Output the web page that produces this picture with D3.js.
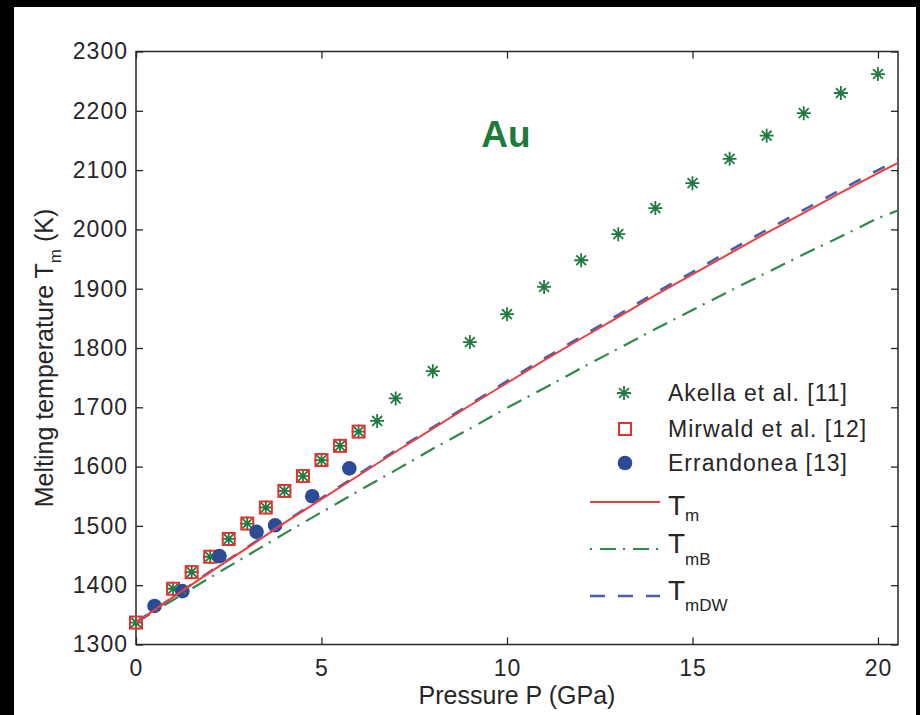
<!DOCTYPE html>
<html>
<head>
<meta charset="utf-8">
<script src="https://cdn.jsdelivr.net/npm/d3@7"></script>
<style>
  body { margin: 0; background: #000; }
  svg { display: block; }
  text { font-family: "Liberation Sans", Arial, Helvetica, sans-serif; fill: #262626; }
</style>
</head>
<body>
<svg id="chart" width="920" height="715"></svg>
<script>
// Pressure grid (GPa) on which the model melting curves are tabulated
const curveP = [0, 1, 2, 3, 4, 5, 6, 7, 8, 9, 10, 11, 12, 13, 14, 15, 16, 17, 18, 19, 20, 20.54];
// Model melting temperatures (K)
const tm   = [1337, 1380, 1422, 1463, 1505, 1545, 1585, 1625, 1664, 1703, 1741, 1779, 1816, 1852, 1889, 1924, 1959, 1994, 2028, 2062, 2095, 2112];
const tmB  = [1337, 1375, 1413, 1450, 1487, 1523, 1559, 1594, 1630, 1664, 1699, 1732, 1766, 1799, 1832, 1864, 1896, 1927, 1958, 1988, 2019, 2032];
const tmDW = [1337, 1380, 1423, 1464, 1506, 1547, 1587, 1627, 1666, 1705, 1744, 1782, 1819, 1856, 1893, 1928, 1964, 1999, 2033, 2067, 2100, 2117];

// Experimental data
const akellaP = [0, 1, 1.5, 2, 2.5, 3, 3.5, 4, 4.5, 5, 5.5, 6, 6.5, 7, 8, 9, 10, 11, 12, 13, 14, 15, 16, 17, 18, 19, 20];
const akellaT = [1337, 1394, 1422, 1448, 1478, 1504, 1531, 1559, 1584, 1611, 1635, 1659, 1677, 1715, 1761, 1810, 1857, 1903, 1948, 1992, 2036, 2078, 2119, 2158, 2196, 2230, 2262];
const mirwaldP = [0, 1, 1.5, 2, 2.5, 3, 3.5, 4, 4.5, 5, 5.5, 6];
const mirwaldT = [1337, 1394, 1422, 1448, 1478, 1504, 1531, 1559, 1584, 1611, 1635, 1659];
const errandoneaP = [0.5, 1.25, 2.25, 3.25, 3.75, 4.75, 5.75];
const errandoneaT = [1365, 1390, 1449, 1490, 1501, 1550, 1597];

// Axis ticks
const xTicks = [0, 5, 10, 15, 20];
const yTicks = [1300, 1400, 1500, 1600, 1700, 1800, 1900, 2000, 2100, 2200, 2300];

const legendLabels = ["Akella et al. [11]", "Mirwald et al. [12]", "Errandonea [13]"];
const curveLabels = [["T", "m"], ["T", "mB"], ["T", "mDW"]];

const colors = {
  akella: "#1f7a3f",
  mirwald: "#e3312f",
  errandonea: "#2b4a98",
  tm: "#ea3f42",
  tmB: "#2d8a4a",
  tmDW: "#4a5ea9",
  title: "#1d7b3c",
  axis: "#262626"
};

const svg = d3.select("#chart");
svg.append("rect").attr("width", 920).attr("height", 715).attr("fill", "#000");
svg.append("rect").attr("x", 14).attr("y", 7).attr("width", 902).attr("height", 708).attr("fill", "#fff");

const plot = { left: 136, right: 898, top: 51.5, bottom: 644.5 };
const x = d3.scaleLinear().domain([0, 20.54]).range([plot.left, plot.right]);
const y = d3.scaleLinear().domain([1300, 2300]).range([plot.bottom, plot.top]);

// Axes with inward ticks on all four sides
const tickFont = g => g.selectAll("text")
  .style("font-size", "23px").style("letter-spacing", "1px").style("fill", colors.axis);
const styleAxis = g => {
  g.select(".domain").remove();
  g.selectAll("line").attr("stroke", colors.axis).attr("stroke-width", 1.3);
};

svg.append("g").attr("transform", `translate(0,${plot.bottom})`)
  .call(d3.axisBottom(x).tickValues(xTicks).tickFormat(d3.format("d")).tickSizeInner(-7).tickSizeOuter(0).tickPadding(15))
  .call(styleAxis).call(tickFont);
svg.append("g").attr("transform", `translate(0,${plot.top})`)
  .call(d3.axisTop(x).tickValues(xTicks).tickFormat("").tickSizeInner(-7).tickSizeOuter(0))
  .call(styleAxis);
svg.append("g").attr("transform", `translate(${plot.left},0)`)
  .call(d3.axisLeft(y).tickValues(yTicks).tickFormat(d3.format("d")).tickSizeInner(-7).tickSizeOuter(0).tickPadding(8))
  .call(styleAxis).call(tickFont);
svg.append("g").attr("transform", `translate(${plot.right},0)`)
  .call(d3.axisRight(y).tickValues(yTicks).tickFormat("").tickSizeInner(-7).tickSizeOuter(0))
  .call(styleAxis);

svg.append("rect")
  .attr("x", plot.left).attr("y", plot.top)
  .attr("width", plot.right - plot.left).attr("height", plot.bottom - plot.top)
  .attr("fill", "none").attr("stroke", colors.axis).attr("stroke-width", 1.5);

// Axis labels
svg.append("text")
  .attr("x", (plot.left + plot.right) / 2).attr("y", 704)
  .attr("text-anchor", "middle").style("font-size", "25px")
  .text("Pressure P (GPa)");

const yLab = svg.append("text")
  .attr("transform", "translate(53,358) rotate(-90)")
  .attr("text-anchor", "middle").style("font-size", "25px");
yLab.append("tspan").text("Melting temperature T");
yLab.append("tspan").attr("dy", 8).style("font-size", "17px").text("m");
yLab.append("tspan").attr("dy", -8).text(" (K)");

// Title
svg.append("text")
  .attr("x", 506).attr("y", 147)
  .attr("text-anchor", "middle")
  .style("font-size", "37px").style("font-weight", "bold")
  .style("fill", colors.title)
  .text("Au");

// Marker shapes
const starPath = r => {
  const d = r * Math.SQRT1_2;
  return `M${-r},0L${r},0M0,${-r}L0,${r}M${-d},${-d}L${d},${d}M${-d},${d}L${d},${-d}`;
};
const drawStar = (g, px, py) => g.append("path")
  .attr("transform", `translate(${px},${py})`)
  .attr("d", starPath(7))
  .attr("fill", "none").attr("stroke", colors.akella).attr("stroke-width", 1.8);
const drawSquare = (g, px, py) => g.append("rect")
  .attr("x", px - 6).attr("y", py - 6).attr("width", 12).attr("height", 12)
  .attr("fill", "none").attr("stroke", colors.mirwald).attr("stroke-width", 2);
const drawDot = (g, px, py) => g.append("circle")
  .attr("cx", px).attr("cy", py).attr("r", 7.3)
  .attr("fill", colors.errandonea);

const marks = svg.append("g");
akellaP.forEach((p, i) => drawStar(marks, x(p), y(akellaT[i])));
mirwaldP.forEach((p, i) => drawSquare(marks, x(p), y(mirwaldT[i])));
errandoneaP.forEach((p, i) => drawDot(marks, x(p), y(errandoneaT[i])));

// Model curves
const line = d3.line().x(d => x(d[0])).y(d => y(d[1]));
const curves = [
  { values: tmB,  color: colors.tmB,  width: 2.2, dash: "16,7,2,8" },
  { values: tmDW, color: colors.tmDW, width: 2.6, dash: "13,14" },
  { values: tm,   color: colors.tm,   width: 2.0, dash: null }
];
svg.append("clipPath").attr("id", "plot-clip").append("rect")
  .attr("x", plot.left).attr("y", plot.top)
  .attr("width", plot.right - plot.left).attr("height", plot.bottom - plot.top);
const curveG = svg.append("g").attr("clip-path", "url(#plot-clip)");
curves.forEach(c => {
  curveG.append("path")
    .attr("d", line(curveP.map((p, i) => [p, c.values[i]])))
    .attr("fill", "none").attr("stroke", c.color).attr("stroke-width", c.width)
    .attr("stroke-dasharray", c.dash);
});

// Legend
const legend = svg.append("g");
const markerX = 624, textX = 668;
const rowY = [393, 429, 463];
drawStar(legend, markerX, rowY[0]);
drawSquare(legend, markerX + 1, rowY[1]);
drawDot(legend, markerX + 1, rowY[2]);
legendLabels.forEach((t, i) => legend.append("text")
  .attr("x", textX).attr("y", rowY[i]).attr("dy", "0.36em")
  .style("font-size", "23px").style("letter-spacing", "1px")
  .text(t));

const lineRows = [
  { y: 502, base: 515, sub: 521, color: colors.tm,   width: 2.0, dash: null },
  { y: 549, base: 553, sub: 565, color: colors.tmB,  width: 2.2, dash: "2,8,16,7" },
  { y: 596, base: 600, sub: 611, color: colors.tmDW, width: 2.6, dash: "15,13" }
];
lineRows.forEach((r, i) => {
  legend.append("line")
    .attr("x1", 590).attr("x2", 660).attr("y1", r.y).attr("y2", r.y)
    .attr("stroke", r.color).attr("stroke-width", r.width)
    .attr("stroke-dasharray", r.dash);
  const t = legend.append("text").attr("x", textX).attr("y", r.base).style("font-size", "28px");
  t.append("tspan").text(curveLabels[i][0]);
  t.append("tspan").attr("y", r.sub).style("font-size", "17px").text(curveLabels[i][1]);
});
</script>
</body>
</html>
